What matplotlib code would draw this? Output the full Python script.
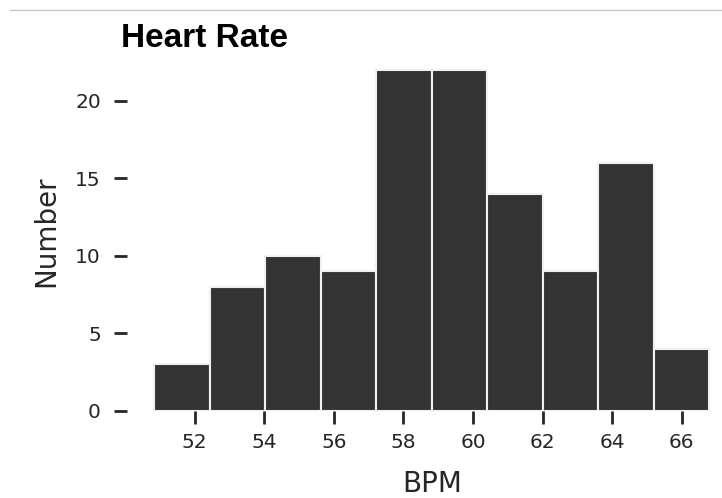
import matplotlib
matplotlib.use("Agg")
import matplotlib.pyplot as plt
from matplotlib.lines import Line2D
import numpy as np

# Data
bin_edges = np.linspace(50.84, 66.79, 11)
counts = [3, 8, 10, 9, 22, 22, 14, 9, 16, 4]
x_ticks = [52, 54, 56, 58, 60, 62, 64, 66]
y_ticks = [0, 5, 10, 15, 20]

W, H = 722, 498
fig = plt.figure(figsize=(W / 100, H / 100), dpi=100)
fig.patch.set_facecolor("white")

# axes in pixel terms (the original is cropped at the right)
left_px, right_px, top_px, bottom_px = 126.5, 737.0, 52.6, 410.5
ax = fig.add_axes([left_px / W, 1 - bottom_px / H,
                   (right_px - left_px) / W, (bottom_px - top_px) / H])

centers = (bin_edges[:-1] + bin_edges[1:]) / 2
widths = np.diff(bin_edges)
ax.bar(centers, counts, width=widths, color="#333333",
       edgecolor="#f0f0f0", linewidth=1.5, align="center")

ax.set_xlim(50.04, 67.59)
ax.set_ylim(0, 23.1)
ax.set_xticks(x_ticks)
ax.set_yticks(y_ticks)
for s in ax.spines.values():
    s.set_visible(False)
ax.tick_params(axis="both", length=9.5, width=2.0, color="#262626",
               labelsize=14.5, labelcolor="#262626")
ax.tick_params(axis="y", pad=9)
ax.tick_params(axis="x", pad=7)

ax.set_xlabel("BPM", fontsize=20, color="#262626", labelpad=13)
ax.set_ylabel("Number", fontsize=20, color="#262626", labelpad=11)

fig.text(121 / W, 1 - 47 / H, "Heart Rate", fontsize=24, fontweight="bold",
         family="Liberation Sans", color="black", ha="left", va="baseline")

# thin gray rule at the top of the reference image
fig.add_artist(Line2D([10 / W, 1.0], [1 - 10 / H, 1 - 10 / H],
                      transform=fig.transFigure, color="#c8c8c8", linewidth=1))

fig.savefig("out.png", dpi=100)
